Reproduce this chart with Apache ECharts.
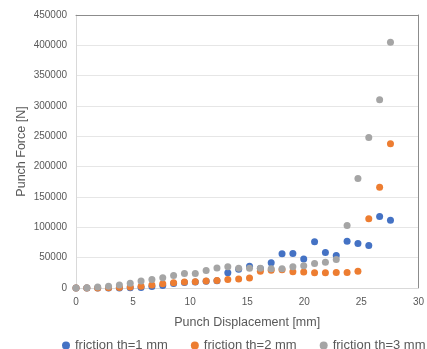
<!DOCTYPE html>
<html>
<head>
<meta charset="utf-8">
<script src="https://cdn.jsdelivr.net/npm/echarts@6/dist/echarts.min.js"></script>
<style>
  html, body { margin: 0; padding: 0; background: #fff; }
  #chart { width: 427px; height: 349px; }
</style>
</head>
<body>
<div id="chart"></div>
<script>
// Punch displacement [mm] at each recorded step
const displacement = [0, 0.95, 1.9, 2.85, 3.8, 4.75, 5.7, 6.65, 7.6, 8.55,
  9.5, 10.45, 11.4, 12.35, 13.3, 14.25, 15.2, 16.15, 17.1, 18.05,
  19.0, 19.95, 20.9, 21.85, 22.8, 23.75, 24.7, 25.65, 26.6, 27.55];

// Punch force [N] for each friction thickness
const forceTh1 = [0, 0, 0, 0, 0, 300, 800, 2500, 4000, 7500,
  9000, 10000, 11000, 12000, 25200, 31000, 35800, 32000, 41600, 56400,
  57000, 47800, 76200, 58400, 53600, 77200, 73400, 70100, 117800, 111500];
const forceTh2 = [0, 0, 0, 300, 800, 1500, 3000, 4800, 7000, 8700,
  9700, 10400, 11400, 12500, 14000, 15000, 16500, 27800, 29400, 30100,
  26800, 26200, 25200, 25200, 25700, 25700, 27800, 114000, 166000, 237900];
const forceTh3 = [0, 500, 1500, 2800, 5000, 8000, 11400, 14000, 17000, 20700,
  23800, 24000, 29000, 33000, 35000, 32700, 32700, 32700, 31700, 31700,
  35000, 36700, 40500, 42600, 47000, 103000, 180300, 248200, 310200, 405200];

const seriesNames = ['friction th=1 mm', 'friction th=2 mm', 'friction th=3 mm'];
const seriesColors = ['#4472C4', '#ED7D31', '#A5A5A5'];

const pairs = ys => displacement.map((x, i) => [x, ys[i]]);

const textColor = '#595959';
const font = 'Liberation Sans, Arial, sans-serif';

const chart = echarts.init(document.getElementById('chart'), null, { renderer: 'canvas' });

chart.setOption({
  animation: false,
  backgroundColor: '#ffffff',
  color: seriesColors,
  textStyle: { fontFamily: font, color: textColor },
  grid: { left: 76, right: 3, top: 15, bottom: 61, containLabel: false },
  legend: {
    left: 57,
    top: 334,
    width: 400,
    icon: 'circle',
    itemWidth: 8,
    itemHeight: 8,
    itemGap: 23,
    textStyle: { fontSize: 13, color: textColor, fontFamily: font },
    data: seriesNames
  },
  xAxis: [
    {
      type: 'value',
      min: 0, max: 30, interval: 5,
      name: 'Punch Displacement [mm]',
      nameLocation: 'middle',
      nameGap: 28,
      nameTextStyle: { fontSize: 12.5, color: textColor },
      axisLine: { show: true, lineStyle: { color: '#D9D9D9' } },
      axisTick: { show: false },
      axisLabel: { fontSize: 10, color: textColor, margin: 9, alignMaxLabel: 'center', hideOverlap: false },
      splitLine: { show: false }
    },
    {
      type: 'value',
      position: 'top',
      min: 0, max: 30,
      axisLine: { show: true, onZero: false, lineStyle: { color: '#8C8C8C' } },
      axisTick: { show: false },
      axisLabel: { show: false },
      splitLine: { show: false }
    }
  ],
  yAxis: [
    {
      type: 'value',
      min: 0, max: 450000, interval: 50000,
      name: 'Punch Force [N]',
      nameLocation: 'middle',
      nameGap: 48,
      nameMoveOverlap: false,
      nameTextStyle: { fontSize: 12.5, color: textColor },
      axisLine: { show: true, lineStyle: { color: '#D9D9D9' } },
      axisTick: { show: false },
      axisLabel: { fontSize: 10, color: textColor, margin: 9, formatter: v => String(v) },
      splitLine: { show: true, lineStyle: { color: '#E6E6E6' } }
    },
    {
      type: 'value',
      position: 'right',
      min: 0, max: 450000,
      axisLine: { show: true, onZero: false, lineStyle: { color: '#8C8C8C' } },
      axisTick: { show: false },
      axisLabel: { show: false },
      splitLine: { show: false }
    }
  ],
  series: [forceTh1, forceTh2, forceTh3].map((ys, k) => ({
    name: seriesNames[k],
    type: 'scatter',
    xAxisIndex: 0,
    yAxisIndex: 0,
    symbol: 'circle',
    symbolSize: 7,
    itemStyle: { color: seriesColors[k], opacity: 1 },
    data: pairs(ys)
  }))
});
</script>
</body>
</html>
